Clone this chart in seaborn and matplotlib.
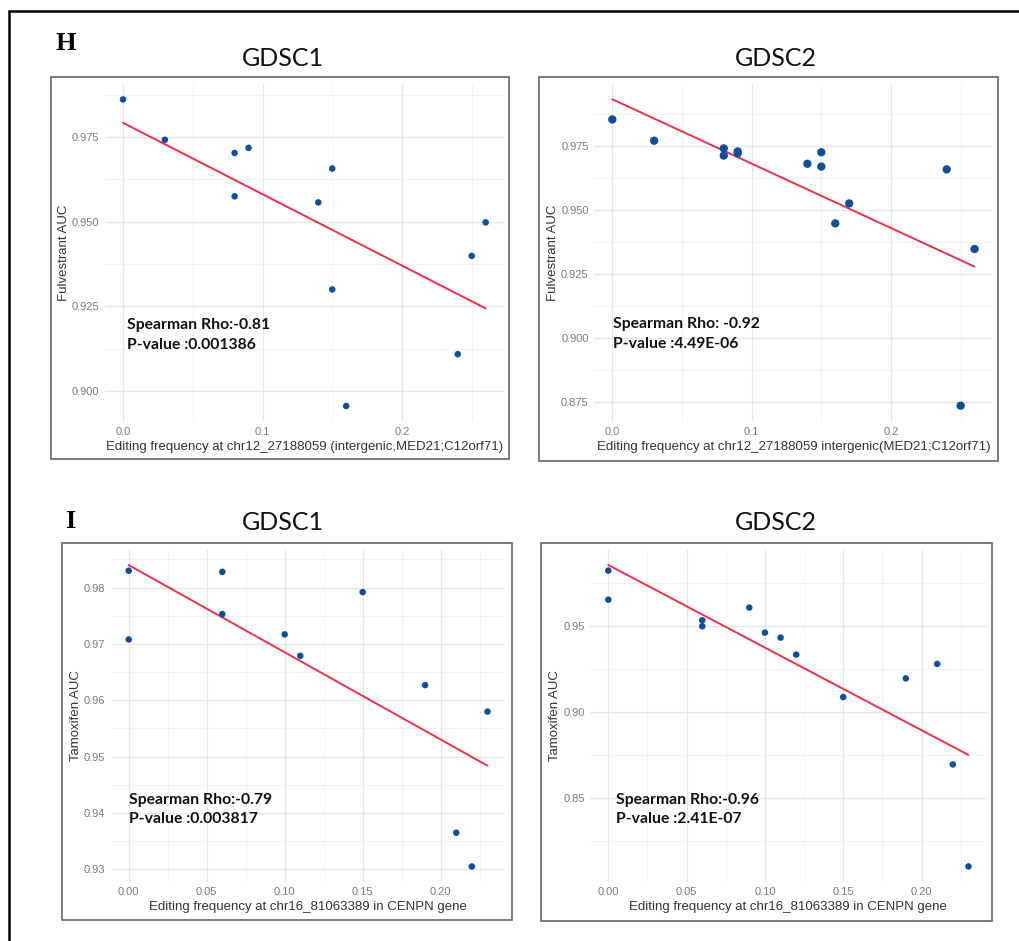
import numpy as np
import pandas as pd
import matplotlib
matplotlib.use("Agg")
import matplotlib.pyplot as plt
import seaborn as sns
from matplotlib.ticker import MultipleLocator, FormatStrFormatter
from matplotlib.patches import Rectangle
from matplotlib.lines import Line2D

# ---------------- data ----------------
h1_freq = [0.00, 0.03, 0.08, 0.09, 0.08, 0.15, 0.14, 0.15, 0.16, 0.24, 0.25, 0.26]
h1_auc = [0.9861, 0.9742, 0.9703, 0.9718, 0.9575, 0.9657, 0.9557, 0.9300, 0.8956, 0.9109, 0.9399, 0.9498]
h1_fit = [0.9792, 0.9244]          # fitted AUC at min / max frequency

h2_freq = [0.00, 0.03, 0.08, 0.08, 0.09, 0.09, 0.14, 0.15, 0.15, 0.17, 0.16, 0.24, 0.26, 0.25]
h2_auc = [0.9855, 0.9772, 0.9742, 0.9714, 0.9730, 0.9723, 0.9682, 0.9727, 0.9671, 0.9527, 0.9449, 0.9660, 0.9349, 0.8737]
h2_fit = [0.9934, 0.9280]

i1_freq = [0.00, 0.00, 0.06, 0.06, 0.10, 0.11, 0.15, 0.19, 0.23, 0.21, 0.22]
i1_auc = [0.9830, 0.9708, 0.9828, 0.9753, 0.9717, 0.9679, 0.9792, 0.9627, 0.9580, 0.9365, 0.9305]
i1_fit = [0.9840, 0.9484]

i2_freq = [0.00, 0.00, 0.06, 0.06, 0.09, 0.10, 0.11, 0.12, 0.15, 0.19, 0.21, 0.22, 0.23]
i2_auc = [0.9822, 0.9653, 0.9533, 0.9498, 0.9607, 0.9461, 0.9432, 0.9333, 0.9086, 0.9195, 0.9279, 0.8694, 0.8100]
i2_fit = [0.9855, 0.8749]

panel_titles = ["GDSC1", "GDSC2", "GDSC1", "GDSC2"]
row_letters = ["H", "I"]
xlabels = ["Editing frequency at chr12_27188059 (intergenic,MED21;C12orf71)",
           "Editing frequency at chr12_27188059 intergenic(MED21;C12orf71)",
           "Editing frequency at chr16_81063389 in CENPN gene",
           "Editing frequency at chr16_81063389 in CENPN gene"]
ylabels = ["Fulvestrant AUC", "Fulvestrant AUC", "Tamoxifen AUC", "Tamoxifen AUC"]
stats_text = ["Spearman Rho:-0.81\nP-value :0.001386",
              "Spearman Rho: -0.92\nP-value :4.49E-06",
              "Spearman Rho:-0.79\nP-value :0.003817",
              "Spearman Rho:-0.96\nP-value :2.41E-07"]

# ---------------- layout (pixels) ----------------
W, H = 1019, 941
fig = plt.figure(figsize=(W / 100, H / 100), dpi=100)
fig.patch.set_facecolor("white")

def fx(px):
    return px / W

def fy(py):
    return 1 - py / H

axes_px = [(104.9, 84.1, 503.8, 421.3),
           (594.2, 83.9, 992.7, 421.0),
           (110.8, 550.0, 505.4, 881.6),
           (590.3, 549.9, 986.5, 881.5)]
boxes_px = [(51, 77, 509, 459), (539, 77, 998, 461), (62, 543, 512, 920), (541, 543, 992, 921)]
title_px = [(283, 58), (776, 58), (283, 522), (776, 522)]
letter_px = [(55, 43), (65, 521)]
text_pos = [(0.003, 0.9166), (0.0005, 0.9016), (0.0, 0.9406), (0.005, 0.8430)]
marker_s = [22, 36, 22, 22]
xmaj = [0.1, 0.1, 0.05, 0.05]
ymaj = [0.025, 0.025, 0.01, 0.05]
xfmt = ["%.1f", "%.1f", "%.2f", "%.2f"]
yfmt = ["%.3f", "%.3f", "%.2f", "%.2f"]

datasets = [(h1_freq, h1_auc, h1_fit), (h2_freq, h2_auc, h2_fit),
            (i1_freq, i1_auc, i1_fit), (i2_freq, i2_auc, i2_fit)]

sns.set_style("white")
plt.rcParams["font.family"] = ["Liberation Sans", "DejaVu Sans"]

POINT = "#0d4f9c"
LINE = "#ec2f4b"

for k, (freq, auc, fit) in enumerate(datasets):
    l, t, r, b = axes_px[k]
    ax = fig.add_axes([fx(l), fy(b), fx(r) - fx(l), (b - t) / H])
    df = pd.DataFrame({"freq": freq, "auc": auc})
    fit_df = pd.DataFrame({"freq": [min(freq), max(freq)], "auc": fit})

    ax.set_axisbelow(True)
    sns.lineplot(data=fit_df, x="freq", y="auc", color=LINE, lw=1.4, ax=ax, zorder=3)
    sns.scatterplot(data=df, x="freq", y="auc", color=POINT, s=marker_s[k],
                    edgecolor="none", ax=ax, zorder=4)

    # ggplot-style 5% expansion
    xmin, xmax = min(freq), max(freq)
    ymin, ymax = min(min(auc), min(fit)), max(max(auc), max(fit))
    dx, dy = (xmax - xmin) * 0.05, (ymax - ymin) * 0.05
    ax.set_xlim(xmin - dx, xmax + dx)
    ax.set_ylim(ymin - dy, ymax + dy)

    ax.xaxis.set_major_locator(MultipleLocator(xmaj[k]))
    ax.xaxis.set_minor_locator(MultipleLocator(xmaj[k] / 2))
    ax.yaxis.set_major_locator(MultipleLocator(ymaj[k]))
    ax.yaxis.set_minor_locator(MultipleLocator(ymaj[k] / 2))
    ax.xaxis.set_major_formatter(FormatStrFormatter(xfmt[k]))
    ax.yaxis.set_major_formatter(FormatStrFormatter(yfmt[k]))

    ax.grid(which="major", color="#e6e6e6", lw=0.9)
    ax.grid(which="minor", color="#f0f0f0", lw=0.6)
    for s in ax.spines.values():
        s.set_visible(False)
    ax.tick_params(which="both", length=0)
    ax.tick_params(axis="both", labelsize=8, labelcolor="#7a7a7a", pad=4)

    ax.set_xlabel(xlabels[k], fontsize=9.5, color="#333333", labelpad=3)
    ax.set_ylabel(ylabels[k], fontsize=9.5, color="#333333", labelpad=1.5)

    ax.text(text_pos[k][0], text_pos[k][1], stats_text[k], fontsize=11.3,
            fontweight="bold", family=["Lato", "DejaVu Sans"], color="#111111",
            ha="left", va="center", linespacing=1.5, zorder=5)

    # gray panel box
    bl, bt, br, bb = boxes_px[k]
    fig.patches.append(Rectangle((fx(bl), fy(bb)), fx(br) - fx(bl), (bb - bt) / H,
                                 transform=fig.transFigure, fill=False,
                                 edgecolor="#666666", lw=1.2))

    tx, ty = title_px[k]
    fig.text(fx(tx), fy(ty), panel_titles[k], ha="center", va="center",
             fontsize=18, family=["Lato", "DejaVu Sans"], color="#111111")

for j, letter in enumerate(row_letters):
    lx, ly = letter_px[j]
    fig.text(fx(lx), fy(ly), letter, ha="left", va="center", fontsize=19,
             fontweight="bold", family=["Liberation Serif", "DejaVu Serif"], color="black")

# outer black frame (top and left edges)
fig.lines.append(Line2D([fx(8.5), fx(8.5)], [fy(941), fy(11)], transform=fig.transFigure,
                        color="black", lw=1.8))
fig.lines.append(Line2D([fx(8.5), fx(1019)], [fy(11), fy(11)], transform=fig.transFigure,
                        color="black", lw=1.8))

fig.savefig("out.png", dpi=100, facecolor="white")
